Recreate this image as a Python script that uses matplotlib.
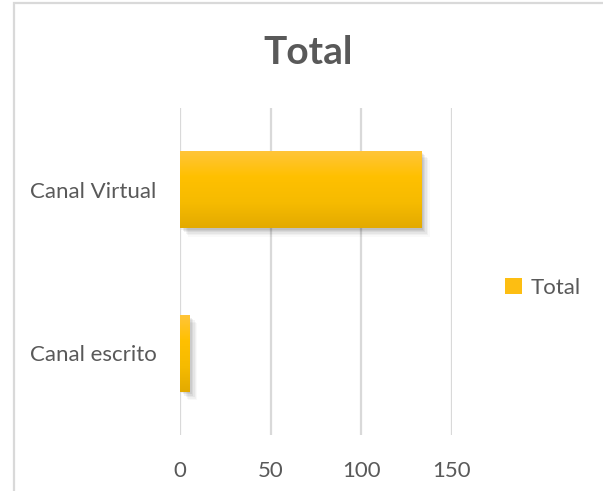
import matplotlib
matplotlib.use("Agg")
import matplotlib.pyplot as plt
import matplotlib.patheffects as pe
from matplotlib.patches import Rectangle, Patch
from matplotlib.colors import LinearSegmentedColormap
import numpy as np

# Data
categories = ["Canal escrito", "Canal Virtual"]
values = [5, 133]
series_name = "Total"
x_ticks = [0, 50, 100, 150]

TEXT = "#595959"
GRID = "#D9D9D9"
FONT = "Lato"

W, H = 603, 491
fig = plt.figure(figsize=(W / 100, H / 100), dpi=100)
fig.patch.set_facecolor("white")

# chart frame (partially outside the canvas)
fig.patches.append(Rectangle((14 / W, -0.2), 1.5, 1.2 - 3 / H,
                             transform=fig.transFigure, fill=False,
                             ec=GRID, lw=1.6))

left, right, top, bottom = 180, 452, 108, 435
ax = fig.add_axes([left / W, 1 - bottom / H, (right - left) / W, (bottom - top) / H])

ypos = np.arange(len(categories))
bars = ax.barh(ypos, values, height=0.47, color="#FFC000", zorder=3)

# soft shadow below/right of each bar
shadow = [pe.SimplePatchShadow(offset=(d, -d), shadow_rgbFace="black", alpha=a)
          for d, a in ((6, 0.025), (5, 0.035), (4, 0.045), (3, 0.055), (2, 0.06), (1, 0.06))]
for b in bars:
    b.set_path_effects(shadow + [pe.Normal()])

# vertical gradient fill inside each bar
grad_cmap = LinearSegmentedColormap.from_list(
    "gold", ["#E3AA00", "#F6BB00", "#FFC000", "#FFC53A"])
grad = np.linspace(0, 1, 256).reshape(-1, 1)
for b in bars:
    x0, y0, w, h = b.get_x(), b.get_y(), b.get_width(), b.get_height()
    im = ax.imshow(grad, cmap=grad_cmap, aspect="auto", origin="lower",
                   extent=(x0, x0 + w, y0, y0 + h), zorder=4, interpolation="bicubic")
    im.set_clip_path(b)

ax.set_xlim(0, 150)
ax.set_ylim(-0.5, len(categories) - 0.5)
ax.set_xticks(x_ticks)
ax.set_xticklabels([str(t) for t in x_ticks])
ax.set_yticks(ypos)
ax.set_yticklabels(categories)
ax.grid(axis="x", color=GRID, lw=1.6, zorder=0)
ax.set_axisbelow(True)
for s in ax.spines.values():
    s.set_visible(False)
ax.tick_params(length=0, colors=TEXT, labelsize=16)
ax.tick_params(axis="x", pad=19)
ax.tick_params(axis="y", pad=17)
for lbl in ax.get_xticklabels() + ax.get_yticklabels():
    lbl.set_fontfamily(FONT)
    lbl.set_color(TEXT)

fig.text(308.5 / W, 1 - 64 / H, "Total", ha="center", va="baseline",
         fontsize=28, fontweight="bold", color=TEXT, family=FONT)

handle = Patch(facecolor="#FDBE12", edgecolor="none")
fig.legend([handle], [series_name], loc="center left",
           bbox_to_anchor=(505 / W, 1 - 288 / H), frameon=False,
           prop={"family": FONT, "size": 16}, labelcolor=TEXT,
           handlelength=0.75, handleheight=0.75, handletextpad=0.4,
           borderaxespad=0, borderpad=0)

fig.savefig("out.png", dpi=100, facecolor="white")
